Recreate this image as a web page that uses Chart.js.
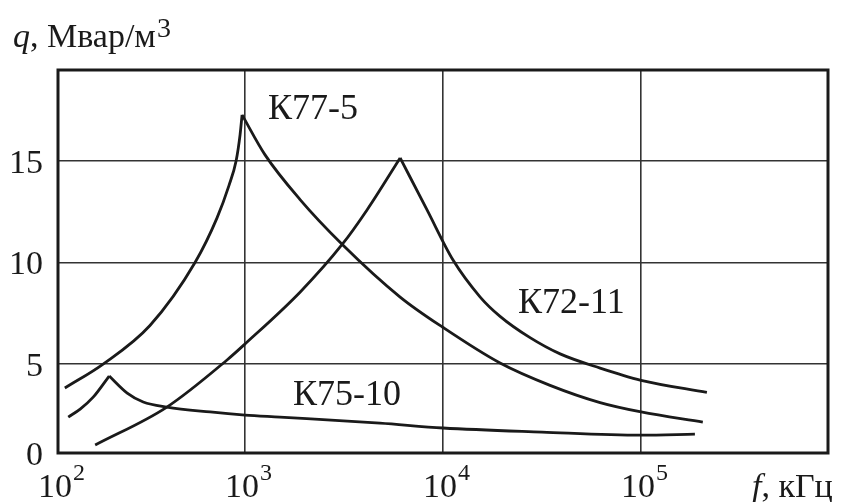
<!DOCTYPE html>
<html>
<head>
<meta charset="utf-8">
<script src="https://cdn.jsdelivr.net/npm/chart.js@4.4.0/dist/chart.umd.min.js"></script>
<style>
  html, body { margin: 0; padding: 0; background: #fff; }
  #wrap { width: 848px; height: 502px; }
</style>
</head>
<body>
<div id="wrap"><canvas id="qChart"></canvas></div>
<script>
// frequency f, kHz / specific reactive power q, Mvar/m3
var freqK77 = [123, 192, 331, 559, 722, 830, 901, 944, 966, 1262, 1896, 3090, 6070, 10000, 19400, 34700, 62100, 100000, 205000];
var qK77 = [3.82, 5.0, 6.9, 10.0, 12.2, 13.8, 15.0, 16.3, 17.27, 15.3, 13.1, 10.9, 8.3, 6.8, 5.05, 3.95, 3.1, 2.64, 2.14];

var freqK72 = [175, 403, 811, 1000, 1900, 3100, 4130, 6070, 8300, 11230, 15400, 19400, 27500, 39000, 62100, 100000, 215000];
var qK72 = [1.01, 2.88, 5.2, 5.99, 8.55, 10.9, 12.59, 15.15, 12.59, 10.12, 8.3, 7.35, 6.3, 5.5, 4.8, 4.2, 3.6];

var freqK75 = [128, 147, 171, 206, 254, 306, 403, 666, 1000, 1500, 4800, 10000, 31600, 100000, 187000];
var qK75 = [2.39, 2.78, 3.37, 4.41, 3.57, 3.13, 2.88, 2.64, 2.49, 2.39, 2.09, 1.85, 1.65, 1.5, 1.55];

var seriesNames = ["К77-5", "К72-11", "К75-10"];

// axis range (the drawn frame starts a little past 10^2 and 0)
var xMin = 113.6, xMax = 879000;
var yMin = 0.62, yMax = 19.48;
var xTickValues = [xMin, 1000, 10000, 100000];
var xTickExp = ["2", "3", "4", "5"];
var yTickValues = [yMin, 5, 10, 15];
var yTickLabels = ["0", "5", "10", "15"];

// where the curve names sit (data coords, left/baseline of the text)
var nameAnchors = [[1306, 17.07], [23900, 7.51], [1746, 2.98]];

var serif = "'Liberation Serif', 'Times New Roman', serif";
var ink = "#1a1a1a";

function toPoints(f, q) {
  return f.map(function (v, i) { return { x: v, y: q[i] }; });
}

// split at the peak so the top stays a sharp cusp
function splitAtPeak(f, q) {
  var pts = toPoints(f, q);
  var k = q.indexOf(Math.max.apply(null, q));
  return [pts.slice(0, k + 1), pts.slice(k)];
}

var datasets = [];
[[freqK77, qK77], [freqK72, qK72], [freqK75, qK75]].forEach(function (s, i) {
  splitAtPeak(s[0], s[1]).forEach(function (part) {
    datasets.push({
      label: seriesNames[i],
      data: part,
      borderColor: ink,
      borderWidth: 2.8,
      pointRadius: 0,
      fill: false,
      cubicInterpolationMode: "monotone",
    });
  });
});

function drawSup(ctx, base, exp, x, y, baseSize, expSize, rise, align) {
  ctx.font = baseSize + "px " + serif;
  var w1 = ctx.measureText(base).width;
  ctx.font = expSize + "px " + serif;
  var w2 = ctx.measureText(exp).width;
  var left = align === "center" ? x - (w1 + w2) / 2 : x;
  ctx.font = baseSize + "px " + serif;
  ctx.fillText(base, left, y);
  ctx.font = expSize + "px " + serif;
  ctx.fillText(exp, left + w1 + 1, y - rise);
}

var textPlugin = {
  id: "textPlugin",
  afterDraw: function (chart) {
    var ctx = chart.ctx;
    var area = chart.chartArea;
    var xs = chart.scales.x, ys = chart.scales.y;
    ctx.save();

    // frame
    ctx.strokeStyle = ink;
    ctx.lineWidth = 3;
    ctx.strokeRect(area.left, area.top, area.right - area.left, area.bottom - area.top);

    ctx.fillStyle = ink;
    ctx.textAlign = "left";
    ctx.textBaseline = "alphabetic";

    // x tick labels 10^n
    xTickValues.forEach(function (v, i) {
      drawSup(ctx, "10", xTickExp[i], xs.getPixelForValue(v) + 3, 497, 34, 24, 17, "center");
    });

    // y title
    ctx.font = "italic 34px " + serif;
    ctx.fillText("q", 13, 47);
    var wq = ctx.measureText("q").width;
    drawSup(ctx, ", Мвар/м", "3", 13 + wq, 47, 34, 28, 10, "left");

    // x title
    ctx.font = "italic 34px " + serif;
    ctx.fillText("f", 752, 497);
    var wf = ctx.measureText("f").width;
    ctx.font = "34px " + serif;
    ctx.fillText(", кГц", 752 + wf, 497);

    // curve names
    ctx.font = "36px " + serif;
    seriesNames.forEach(function (name, i) {
      var a = nameAnchors[i];
      ctx.fillText(name, xs.getPixelForValue(a[0]), ys.getPixelForValue(a[1]));
    });

    ctx.restore();
  },
};

var ctx = document.getElementById("qChart").getContext("2d");
var qChart = new Chart(ctx, {
  type: "line",
  data: { datasets: datasets },
  options: {
    responsive: true,
    maintainAspectRatio: false,
    animation: false,
    layout: { padding: { top: 70, right: 20, left: 0, bottom: 0 } },
    plugins: {
      legend: { display: false },
      tooltip: { enabled: false },
    },
    scales: {
      x: {
        type: "logarithmic",
        min: xMin,
        max: xMax,
        afterBuildTicks: function (scale) {
          scale.ticks = xTickValues.map(function (v) { return { value: v }; });
        },
        afterFit: function (scale) { scale.height = 49; },
        ticks: { display: false },
        grid: { color: "#333", lineWidth: 1.6, drawTicks: false },
        border: { display: false },
      },
      y: {
        type: "linear",
        min: yMin,
        max: yMax,
        afterBuildTicks: function (scale) {
          scale.ticks = yTickValues.map(function (v) { return { value: v }; });
        },
        afterFit: function (scale) { scale.width = 58; },
        ticks: {
          color: ink,
          padding: 15,
          labelOffset: 3,
          font: { family: serif, size: 34 },
          callback: function (value, index) { return yTickLabels[index]; },
        },
        grid: { color: "#333", lineWidth: 1.6, drawTicks: false },
        border: { display: false },
      },
    },
  },
  plugins: [textPlugin],
});
</script>
</body>
</html>
